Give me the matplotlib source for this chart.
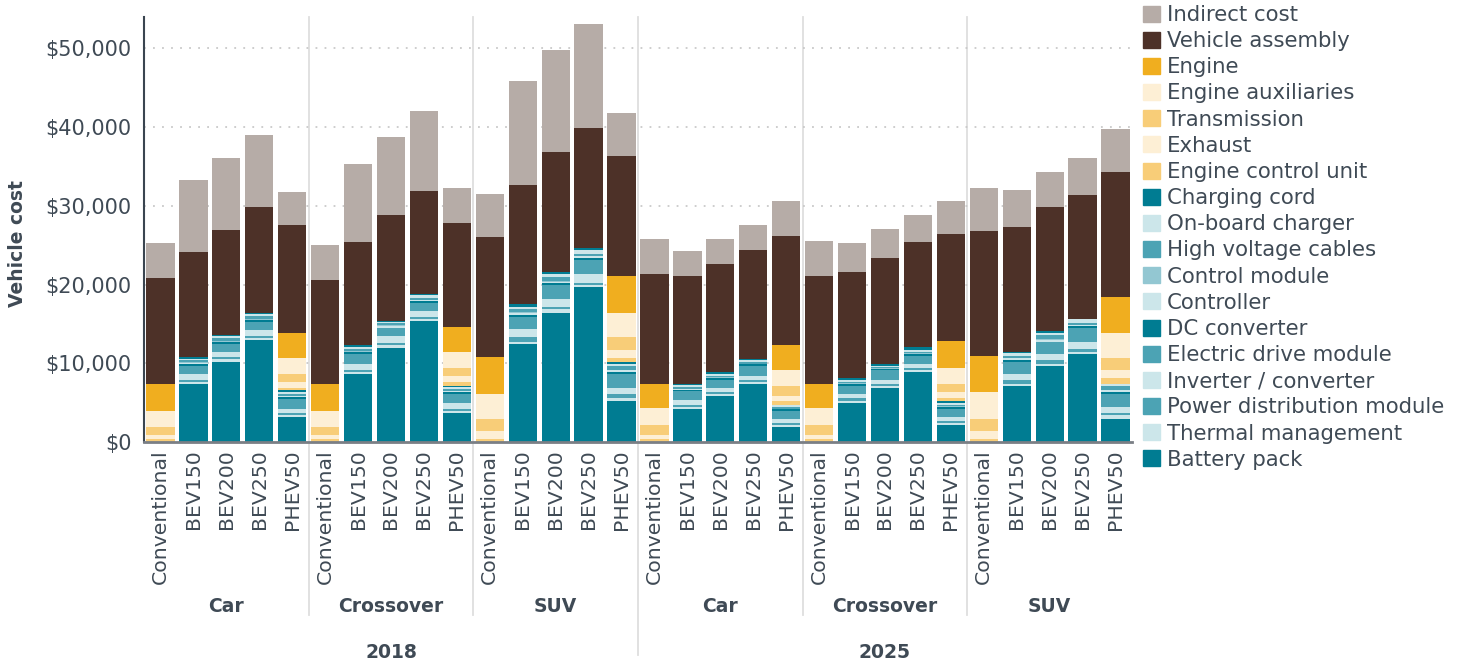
import matplotlib.pyplot as plt
import matplotlib.transforms as mtransforms
from matplotlib.patches import Patch
import numpy as np

# bar order: 2018 Car, Crossover, SUV then 2025 Car, Crossover, SUV;
# inside each group Conventional, BEV150, BEV200, BEV250, PHEV50
years = ["2018", "2025"]
segments = ["Car", "Crossover", "SUV"]
powertrains = ["Conventional", "BEV150", "BEV200", "BEV250", "PHEV50"]

battery_pack = [0, 7370, 10160, 12950, 3180, 0, 8640, 11940, 15370, 3680, 0, 12450, 16380, 19690, 5210,
                0, 4190, 5840, 7370, 1910, 0, 4950, 6860, 8890, 2160, 0, 7110, 9650, 11180, 2920]
thermal_mgmt = [0, 260, 380, 270, 260, 0, 260, 370, 260, 260, 0, 260, 510, 260, 390,
                0, 250, 260, 260, 260, 0, 270, 300, 270, 260, 0, 260, 250, 260, 470]
power_dist = [0, 250, 250, 250, 260, 0, 250, 250, 250, 250, 0, 640, 250, 260, 510,
              0, 250, 260, 250, 250, 0, 380, 260, 250, 260, 0, 460, 480, 400, 250]
inverter = [0, 760, 680, 760, 510, 0, 760, 890, 760, 710, 0, 1020, 1020, 1140, 760,
            0, 630, 510, 510, 510, 0, 510, 510, 510, 510, 0, 760, 760, 890, 760]
drive_module = [0, 1020, 950, 1020, 1270, 0, 1270, 1020, 1020, 1140, 0, 1520, 1780, 1780, 1780,
                0, 1100, 1020, 1270, 1010, 0, 1020, 1200, 1020, 1020, 0, 1520, 1520, 1770, 1650]
dc_converter = [0, 210, 250, 250, 260, 0, 250, 60, 250, 250, 0, 250, 250, 250, 250,
                0, 250, 250, 250, 250, 0, 250, 130, 250, 250, 0, 250, 60, 250, 250]
controller = [0, 130, 60, 60, 60, 0, 60, 200, 130, 130, 0, 250, 130, 250, 250,
              0, 60, 0, 0, 0, 0, 0, 60, 0, 0, 0, 250, 250, 60, 250]
control_module = [0, 130, 130, 130, 60, 0, 130, 130, 60, 60, 0, 130, 130, 60, 60,
                  0, 60, 60, 60, 60, 0, 60, 60, 60, 60, 0, 60, 60, 60, 60]
hv_cables = [0, 290, 380, 380, 250, 0, 250, 250, 190, 250, 0, 380, 510, 190, 450,
             0, 200, 190, 190, 200, 0, 190, 200, 190, 190, 0, 250, 570, 250, 500]
onboard_charger = [0, 170, 250, 250, 250, 0, 200, 200, 380, 250, 0, 250, 380, 510, 250,
                   0, 250, 250, 250, 190, 0, 250, 130, 250, 250, 0, 450, 250, 450, 200]
charging_cord = [0, 170, 100, 60, 250, 0, 250, 60, 130, 130, 0, 380, 250, 250, 250,
                 0, 130, 250, 130, 60, 0, 250, 200, 380, 250, 0, 60, 250, 60, 60]
engine_ecu = [380, 0, 0, 0, 250, 380, 0, 0, 0, 510, 380, 0, 0, 0, 510,
              380, 0, 0, 0, 510, 380, 0, 0, 0, 380, 380, 0, 0, 0, 760]
exhaust = [510, 0, 0, 0, 760, 510, 0, 0, 0, 760, 1020, 0, 0, 0, 1010,
           510, 0, 0, 0, 630, 510, 0, 0, 0, 760, 1020, 0, 0, 0, 1010]
transmission = [1020, 0, 0, 0, 1020, 1020, 0, 0, 0, 1020, 1520, 0, 0, 0, 1660,
                1270, 0, 0, 0, 1270, 1270, 0, 0, 0, 1020, 1520, 0, 0, 0, 1530]
engine_aux = [2030, 0, 0, 0, 2030, 2030, 0, 0, 0, 2030, 3180, 0, 0, 0, 3040,
              2160, 0, 0, 0, 2030, 2160, 0, 0, 0, 2030, 3430, 0, 0, 0, 3170]
engine = [3430, 0, 0, 0, 3170, 3430, 0, 0, 0, 3170, 4700, 0, 0, 0, 4700,
          3050, 0, 0, 0, 3180, 3050, 0, 0, 0, 3430, 4570, 0, 0, 0, 4580]
vehicle_assembly = [13460, 13370, 13330, 13470, 13720, 13200, 13080, 13460, 13080, 13210,
                    15240, 15110, 15240, 15240, 15240, 13970, 13710, 13720, 13840, 13840,
                    13710, 13460, 13460, 13330, 13590, 15880, 15870, 15750, 15740, 15870]
indirect_cost = [4440, 9140, 9150, 9140, 4190, 4450, 9900, 9910, 10160, 4450,
                 5460, 13210, 12950, 13210, 5460, 4440, 3180, 3170, 3180, 4440,
                 4450, 3680, 3680, 3430, 4180, 5460, 4700, 4440, 4700, 5460]

dark_teal = "#007c92"
mid_teal = "#4ca3b4"
pale_teal = "#cce6ea"
light_gold = "#f8cd78"
cream = "#fdefd5"

# stacking order, bottom first
stack = [
    ("Battery pack", battery_pack, dark_teal),
    ("Thermal management", thermal_mgmt, pale_teal),
    ("Power distribution module", power_dist, mid_teal),
    ("Inverter / converter", inverter, pale_teal),
    ("Electric drive module", drive_module, mid_teal),
    ("DC converter", dc_converter, dark_teal),
    ("Controller", controller, pale_teal),
    ("Control module", control_module, "#93c7d2"),
    ("High voltage cables", hv_cables, mid_teal),
    ("On-board charger", onboard_charger, pale_teal),
    ("Charging cord", charging_cord, dark_teal),
    ("Engine control unit", engine_ecu, light_gold),
    ("Exhaust", exhaust, cream),
    ("Transmission", transmission, light_gold),
    ("Engine auxiliaries", engine_aux, cream),
    ("Engine", engine, "#f0ae1f"),
    ("Vehicle assembly", vehicle_assembly, "#4d3128"),
    ("Indirect cost", indirect_cost, "#b6aca7"),
]

text_col = "#3f4a55"
plt.rcParams["font.family"] = "DejaVu Sans"

fig = plt.figure(figsize=(14.65, 6.63), dpi=100)
ax = fig.add_axes([144 / 1465, 1 - 442 / 663, 988 / 1465, 425 / 663])

x = np.arange(len(battery_pack))
bottom = np.zeros(len(x))
for label, vals, col in stack:
    vals = np.array(vals, dtype=float)
    ax.bar(x, vals, bottom=bottom, width=0.86, color=col, linewidth=0, zorder=3)
    bottom += vals

ax.set_xlim(-0.5, len(x) - 0.5)
ax.set_ylim(0, 54000)
ax.set_yticks(range(0, 50001, 10000))
ax.set_yticklabels(["$0"] + ["${:,}".format(v) for v in range(10000, 50001, 10000)])
ax.tick_params(axis="y", length=0, pad=9, labelsize=15, labelcolor=text_col)
for v in range(10000, 50001, 10000):
    ax.axhline(v, color="#c9c9c9", lw=1.3, ls=(0, (1, 4)), zorder=1)

tick_labels = powertrains * (len(years) * len(segments))
ax.set_xticks(x)
ax.set_xticklabels(tick_labels, rotation=90, fontsize=14.7, color=text_col)
ax.tick_params(axis="x", length=0, pad=5)

for s in ["top", "right"]:
    ax.spines[s].set_visible(False)
ax.spines["left"].set_color("#3a4550")
ax.spines["left"].set_linewidth(1.5)
ax.spines["bottom"].set_color("#7a7f85")
ax.spines["bottom"].set_linewidth(2)
ax.spines["bottom"].set_zorder(4)

# group separators and labels below the axis
trans = mtransforms.blended_transform_factory(ax.transData, ax.transAxes)
n_seg = len(segments)
for g in range(1, len(years) * n_seg):
    xs = g * 5 - 0.5
    low = -0.502 if g % n_seg == 0 else -0.407
    ax.plot([xs, xs], [1.0, low], transform=trans, color="#dedede", lw=1.3,
            clip_on=False, zorder=0)
for yi, yr in enumerate(years):
    for si, seg in enumerate(segments):
        cx = (yi * n_seg + si) * 5 + 2
        ax.text(cx, -0.388, seg, transform=trans, ha="center", va="center",
                fontsize=13.5, fontweight="bold", color=text_col)
    cx = yi * n_seg * 5 + n_seg * 5 / 2 - 0.5
    ax.text(cx, -0.496, yr, transform=trans, ha="center", va="center",
            fontsize=13.5, fontweight="bold", color=text_col)

fig.text(18 / 1465, 1 - 244 / 663, "Vehicle cost", rotation=90, ha="center", va="center",
         fontsize=13.5, fontweight="bold", color=text_col)

handles = [Patch(color=col) for _, _, col in stack][::-1]
labels = [lab for lab, _, _ in stack][::-1]
leg = fig.legend(handles, labels, loc="upper left", bbox_to_anchor=(1143 / 1465, 1 - 5 / 663),
                 frameon=False, fontsize=15.3, handlelength=0.78, handleheight=0.78,
                 handletextpad=0.35, labelspacing=0.29, borderpad=0, borderaxespad=0)
for t in leg.get_texts():
    t.set_color(text_col)

fig.savefig("out.png", dpi=100)
